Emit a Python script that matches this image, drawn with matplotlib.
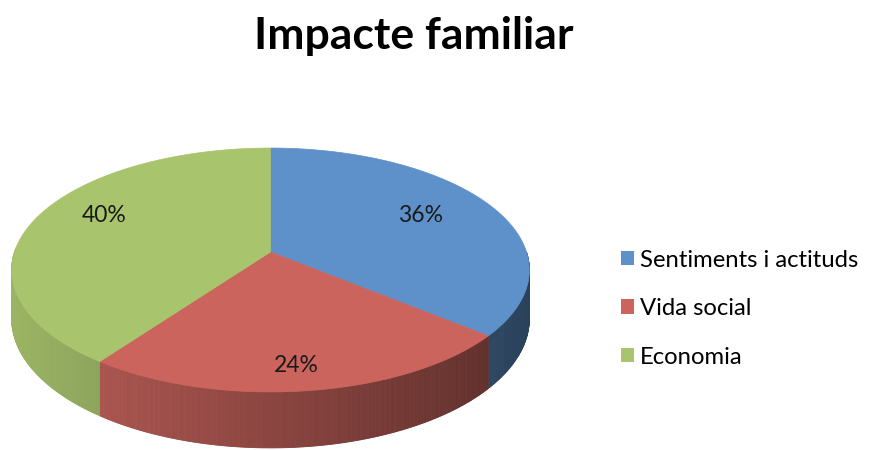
import numpy as np
import matplotlib
matplotlib.use('Agg')
import matplotlib.pyplot as plt
from matplotlib.patches import Polygon, Patch

# data
labels = ['Sentiments i actituds', 'Vida social', 'Economia']
values = [36, 24, 40]
colors = ['#5E91C9', '#CB645D', '#A8C46C']
title = 'Impacte familiar'

plt.rcParams['font.family'] = ['Lato', 'DejaVu Sans']

fig = plt.figure(figsize=(8.69, 4.5), dpi=100)
ax = fig.add_axes([0, 0, 1, 1])
ax.set_xlim(0, 869)
ax.set_ylim(450, 0)
ax.axis('off')

# 3d pie geometry (pixel-like units), simple perspective
cx, cy = 270.5, 252      # apex of the slices
A, S = 256, 119.3         # horizontal radius, vertical scale
k = 6.78                  # perspective distance
depth = 47.7


def pt(t):
    r = np.radians(t)
    p = k / (k + np.sin(r))
    return cx + A * np.cos(r) * p, cy - S * np.sin(r) * p, depth * p


def shade(col, x):
    f = 0.92 - 0.47 * (x - 12) / 517
    c = np.array(matplotlib.colors.to_rgb(col))
    return tuple(np.clip(c * f, 0, 1))


# angles: start at 90 deg, clockwise
total = float(sum(values))
bounds = [90.0]
for v in values:
    bounds.append(bounds[-1] - 360.0 * v / total)

# side walls (front half only)
for i, col in enumerate(colors):
    ts = np.linspace(bounds[i + 1], bounds[i], 240)
    for j in range(len(ts) - 1):
        tm = (ts[j] + ts[j + 1]) / 2 % 360
        if tm < 178:
            continue
        x1, y1, d1 = pt(ts[j])
        x2, y2, d2 = pt(ts[j + 1])
        c = shade(col, (x1 + x2) / 2)
        quad = [(x1, y1), (x2, y2), (x2, y2 + d2), (x1, y1 + d1)]
        ax.add_patch(Polygon(quad, closed=True, facecolor=c, edgecolor=c,
                             linewidth=0.6))

# top face
for i, col in enumerate(colors):
    ts = np.linspace(bounds[i + 1], bounds[i], 240)
    pts = [(cx, cy)] + [pt(t)[:2] for t in ts]
    ax.add_patch(Polygon(pts, closed=True, facecolor=col, edgecolor=col,
                         linewidth=0.5))

# percentage labels
pos = [(421, 216), (296, 366), (104, 216)]
for (x, y), v in zip(pos, values):
    ax.text(x, y, '%d%%' % v, fontsize=16.5, ha='center', va='center',
            color='#1a1a1a')

ax.text(414, 36, title, fontsize=32, fontweight='bold', ha='center',
        va='center', color='black')

handles = [Patch(facecolor=c, edgecolor='none') for c in colors]
ax.legend(handles, labels, loc='upper left',
          bbox_to_anchor=(611 / 869, 1 - 240 / 450),
          frameon=False, fontsize=17.2, handlelength=0.55, handleheight=0.55,
          handletextpad=0.25, labelspacing=1.15, borderaxespad=0)

fig.savefig('out.png', dpi=100)
